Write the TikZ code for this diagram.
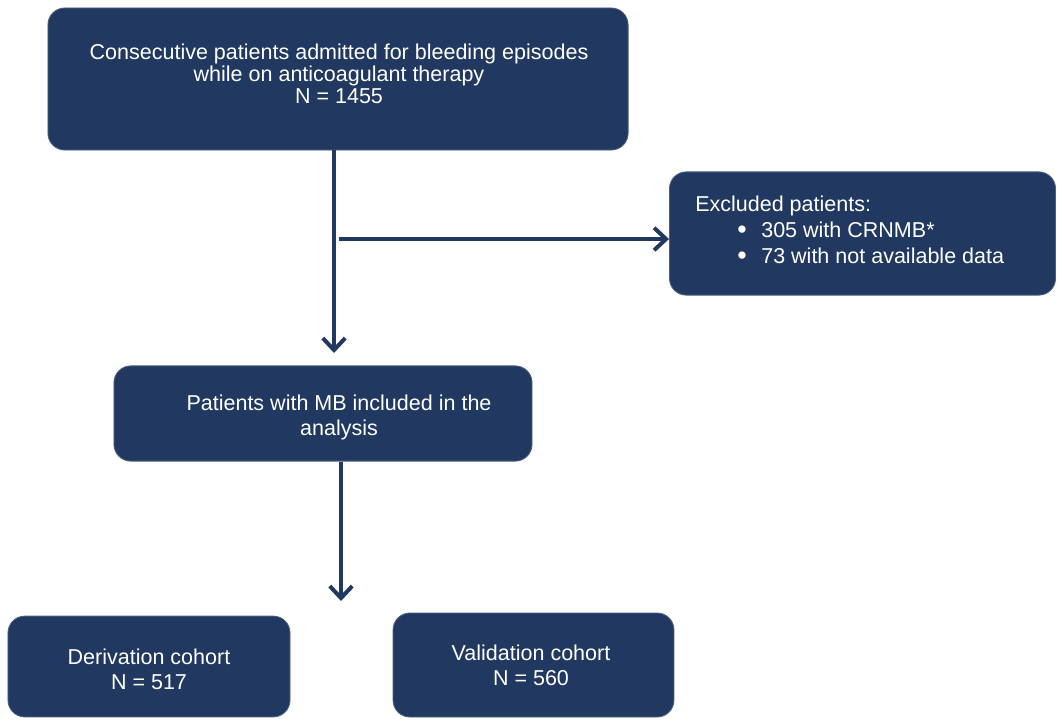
\documentclass[tikz,border=0pt]{standalone}
\usepackage{fontspec}
\setmainfont{Liberation Sans}
\usetikzlibrary{arrows.meta,positioning}
\definecolor{fnavy}{RGB}{33,56,97}
\newcommand{\bigbul}{\smash{\raisebox{-0.1ex}{\scalebox{1.25}{\textbullet}}}}

\begin{document}
\begin{tikzpicture}[x=0.025cm,y=-0.025cm,>={Straight Barb[length=3mm,width=5.6mm]},
  box/.style={draw=fnavy!80!white,fill=fnavy,rounded corners=0.42cm,line width=0.6pt,inner sep=0pt},
  txt/.style={text=white,font=\fontsize{15.3}{17.7}\selectfont,align=center,inner sep=0pt},
  link/.style={->,draw=fnavy,line width=0.1cm}]
  \useasboundingbox (0,0) rectangle (1057,719);
  % boxes
  \node[box,minimum width=14.5cm,minimum height=3.55cm] (cons) at (338,79) {};
  \node[box,minimum width=9.65cm,minimum height=3.08cm] (excl) at (862.5,233.5) {};
  \node[box,minimum width=10.45cm,minimum height=2.38cm] (incl) at (323,413.5) {};
  \node[box,minimum width=7.05cm,minimum height=2.52cm] (deriv) at (149,666.5) {};
  \node[box,minimum width=7.02cm,minimum height=2.6cm] (valid) at (533.5,665) {};
  % texts
  \node[txt,font=\fontsize{15.3}{15.8}\selectfont] (constxt) at (339,74) {Consecutive patients admitted for bleeding episodes\\while on anticoagulant therapy\\N = 1455};
  \node[txt,anchor=west,align=left,font=\fontsize{15.3}{18.4}\selectfont] (excltxt) at (695,230) {Excluded patients:\\
    \makebox[1.05cm][l]{}\makebox[0.6cm][l]{\bigbul}305 with CRNMB*\\
    \makebox[1.05cm][l]{}\makebox[0.6cm][l]{\bigbul}73 with not available data};
  \node[txt] (incltxt) at (339,417) {Patients with MB included in the\\analysis};
  \node[txt] (derivtxt) at (149,669) {Derivation cohort\\N = 517};
  \node[txt] (validtxt) at (531,665) {Validation cohort\\N = 560};
  % arrows
  \coordinate (tip1) at (334,353);
  \coordinate (fork) at (339,239);
  \coordinate (tip2) at (341,601);
  \draw[link] (cons.south -| tip1) -- (tip1);
  \draw[link] (fork) -- (excl.west |- fork);
  \draw[link] (incl.south -| tip2) -- (tip2);
\end{tikzpicture}
\end{document}
